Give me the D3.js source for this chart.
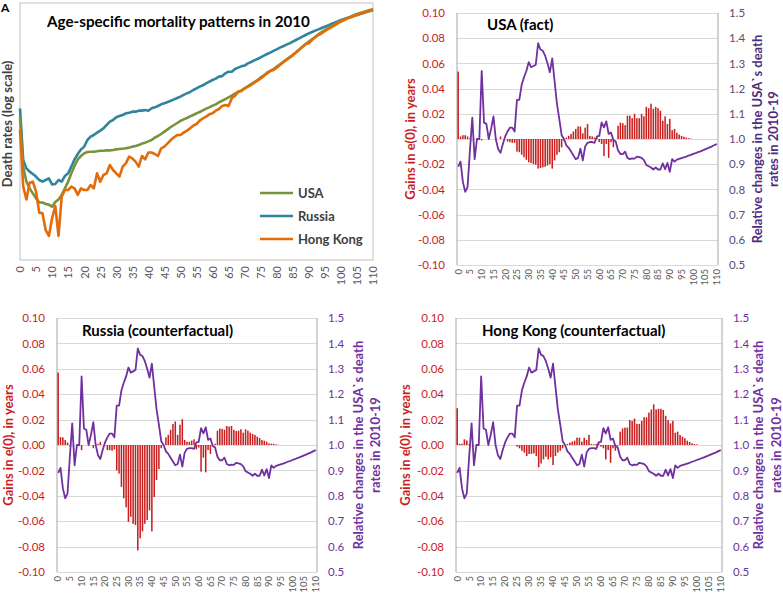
<!DOCTYPE html>
<html><head><meta charset="utf-8">
<script src="https://cdn.jsdelivr.net/npm/d3@7"></script>
<style>
body{margin:0;background:#fff}
svg{display:block}
text{font-family:Lato,"Open Sans",sans-serif}
</style>
</head><body>
<svg id="chart" width="783" height="603"></svg>
<script>
// ---------- DATA ----------
const ages = [0,1,2,3,4,5,6,7,8,9,10,11,12,13,14,15,16,17,18,19,20,21,22,23,24,25,26,27,28,29,30,31,32,33,34,35,36,37,38,39,40,41,42,43,44,45,46,47,48,49,50,51,52,53,54,55,56,57,58,59,60,61,62,63,64,65,66,67,68,69,70,71,72,73,74,75,76,77,78,79,80,81,82,83,84,85,86,87,88,89,90,91,92,93,94,95,96,97,98,99,100,101,102,103,104,105,106,107,108,109,110];
const xTickLabels = ["0","5","10","15","20","25","30","35","40","45","50","55","60","65","70","75","80","85","90","95","100","105","110"];
const leftTicks = [-0.10,-0.08,-0.06,-0.04,-0.02,0.00,0.02,0.04,0.06,0.08,0.10];
const rightTicks = [0.5,0.6,0.7,0.8,0.9,1.0,1.1,1.2,1.3,1.4,1.5];
const seriesNames = ["USA","Russia","Hong Kong"];

// Panel A: death rates 2010 (log scale)
const usaRates = [5.33e-3,5.33e-4,2.67e-4,1.96e-4,1.56e-4,1.24e-4,1.03e-4,1.02e-4,9.55e-5,9.27e-5,
8.45e-5,1.05e-4,1.18e-4,1.45e-4,1.96e-4,2.67e-4,3.92e-4,5.5e-4,7.46e-4,8.71e-4,
9.85e-4,1.05e-3,1.06e-3,1.06e-3,1.08e-3,1.11e-3,1.11e-3,1.13e-3,1.13e-3,1.15e-3,
1.18e-3,1.2e-3,1.22e-3,1.24e-3,1.28e-3,1.34e-3,1.38e-3,1.45e-3,1.54e-3,1.61e-3,
1.71e-3,1.82e-3,2.03e-3,2.19e-3,2.4e-3,2.67e-3,2.97e-3,3.31e-3,3.63e-3,3.98e-3,
4.37e-3,4.71e-3,5.01e-3,5.41e-3,5.75e-3,6.21e-3,6.61e-3,7.13e-3,7.7e-3,8.19e-3,
8.85e-3,9.4e-3,1.03e-2,1.11e-2,1.2e-2,1.3e-2,1.4e-2,1.54e-2,1.66e-2,1.79e-2,
1.96e-2,2.15e-2,2.4e-2,2.63e-2,2.88e-2,3.21e-2,3.57e-2,3.92e-2,4.37e-2,4.79e-2,
5.33e-2,5.93e-2,6.61e-2,7.36e-2,8.19e-2,9.12e-2,0.103,0.117,0.132,0.149,
0.169,0.188,0.209,0.236,0.263,0.288,0.316,0.347,0.374,0.41,
0.443,0.471,0.501,0.533,0.567,0.603,0.631,0.661,0.692,0.724,0.747];
const russiaRates = [7.82e-3,7.24e-4,4.93e-4,4.23e-4,3.8e-4,3.37e-4,2.88e-4,2.67e-4,2.88e-4,3.11e-4,
2.36e-4,2.4e-4,2.88e-4,2.67e-4,3.47e-4,3.92e-4,5.33e-4,7.46e-4,9.55e-4,1.18e-3,
1.34e-3,1.82e-3,2.12e-3,2.29e-3,2.55e-3,2.8e-3,3.11e-3,3.63e-3,4.23e-3,4.57e-3,
5.17e-3,5.5e-3,5.75e-3,6.21e-3,6.41e-3,6.71e-3,6.71e-3,7.03e-3,7.03e-3,7.24e-3,
7.0e-3,7.82e-3,8.19e-3,8.71e-3,9.4e-3,9.85e-3,1.05e-2,1.11e-2,1.18e-2,1.26e-2,
1.34e-2,1.45e-2,1.56e-2,1.66e-2,1.82e-2,1.96e-2,2.12e-2,2.26e-2,2.47e-2,2.67e-2,
2.88e-2,3.07e-2,3.37e-2,3.45e-2,3.92e-2,4.23e-2,4.23e-2,4.79e-2,5.09e-2,5.41e-2,
5.6e-2,6.21e-2,6.61e-2,7.13e-2,7.59e-2,8.19e-2,8.85e-2,9.55e-2,0.102,0.11,
0.118,0.128,0.136,0.147,0.156,0.169,0.182,0.196,0.212,0.229,
0.247,0.263,0.28,0.297,0.316,0.336,0.357,0.38,0.404,0.43,
0.457,0.479,0.501,0.525,0.55,0.575,0.603,0.631,0.661,0.692,0.724];
const hkRates = [2.97e-3,2.12e-4,1.18e-4,2.55e-4,2.67e-4,1.69e-4,6.41e-5,6.21e-5,2.88e-5,2.19e-5,
4.93e-5,8.71e-5,2.19e-5,1.34e-4,1.82e-4,1.82e-4,2.12e-4,1.96e-4,1.45e-4,1.96e-4,
1.82e-4,1.82e-4,2.29e-4,1.96e-4,3.92e-4,2.67e-4,3.63e-4,3.92e-4,5.75e-4,4.57e-4,
3.92e-4,3.37e-4,5.33e-4,6.21e-4,8.45e-4,7.82e-4,6.71e-4,5.33e-4,8.71e-4,7.46e-4,
1.02e-3,1.02e-3,9.55e-4,8.71e-4,1.24e-3,1.34e-3,1.56e-3,1.82e-3,2.06e-3,2.29e-3,
2.29e-3,2.55e-3,2.8e-3,3.11e-3,3.52e-3,3.8e-3,4.43e-3,4.93e-3,5.33e-3,5.93e-3,
6.21e-3,7.03e-3,7.59e-3,8.71e-3,9.12e-3,8.71e-3,1.24e-2,1.4e-2,1.69e-2,1.74e-2,
1.96e-2,2.12e-2,2.29e-2,2.55e-2,2.8e-2,3.11e-2,3.47e-2,4.05e-2,4.37e-2,4.57e-2,
5.09e-2,5.75e-2,6.5e-2,7.24e-2,8.07e-2,8.98e-2,0.102,0.115,0.134,0.151,
0.156,0.182,0.206,0.229,0.247,0.275,0.302,0.326,0.357,0.392,
0.423,0.457,0.486,0.516,0.55,0.575,0.612,0.641,0.671,0.703,0.724];

// Relative changes in the USA's death rates 2010-19 (right axis, same in all 3 panels)
const relChange = [0.89,0.91,0.83,0.79,0.81,0.955,1.085,0.92,1.0,1.0,
1.27,1.065,1.06,1.0,1.04,1.09,1.0,0.96,0.945,0.98,
1.01,1.03,1.045,1.045,1.03,1.155,1.155,1.215,1.245,1.27,
1.305,1.285,1.29,1.295,1.38,1.355,1.35,1.33,1.30,1.265,
1.32,1.23,1.14,1.08,1.015,1.0,0.975,0.965,0.95,0.935,
0.92,0.925,0.962,0.915,0.97,0.985,0.988,0.988,0.985,1.01,
1.012,1.066,1.046,1.07,1.02,1.026,0.996,0.99,0.954,0.94,
0.94,0.95,0.925,0.92,0.923,0.922,0.93,0.928,0.925,0.916,
0.897,0.892,0.887,0.879,0.887,0.879,0.879,0.903,0.88,0.905,
0.87,0.92,0.91,0.918,0.921,0.924,0.927,0.930,0.934,0.937,
0.941,0.944,0.948,0.951,0.955,0.959,0.963,0.967,0.971,0.976,0.980];

// Gains in e(0), in years (left axis)
const gainsUSA = [0.0535,0.002,0.003,0.003,0.002,0.0005,0,0,0,0,
-0.001,0,0,0,0,0,-0.001,0,0.002,0,
0,-0.002,-0.0025,-0.003,-0.003,-0.01,-0.0105,-0.0125,-0.0145,-0.0165,
-0.0185,-0.019,-0.02,-0.0205,-0.0235,-0.023,-0.0225,-0.022,-0.021,-0.02,
-0.0235,-0.017,-0.0125,-0.0105,-0.0066,-0.0015,0.001,0.0025,0.004,0.006,
0.008,0.01,0.01,0.0045,0.009,0.012,0.0025,0.002,0.0012,0.0012,
-0.0025,-0.004,-0.0135,-0.004,-0.015,-0.0025,-0.0065,0,0.0105,0.013,
0.0125,0.011,0.0185,0.0185,0.0165,0.02,0.0165,0.0165,0.02,0.018,
0.0255,0.0245,0.028,0.024,0.0255,0.0245,0.0225,0.0145,0.018,0.012,
0.016,0.007,0.008,0.005,0.0035,0.0025,0.0018,0.0012,0.0007,0.0003,
0,0,0,0,0,0,0,0,0,0,0];
const gainsRussia = [0.057,0.0063,0.006,0.004,0.002,-0.001,0,0,0,0,
-0.004,0,0,0,0,-0.0025,0,0.001,0.0025,0,
0,-0.004,-0.004,-0.0045,-0.0035,-0.02,-0.0225,-0.033,-0.042,-0.049,
-0.0605,-0.0565,-0.062,-0.063,-0.083,-0.0735,-0.068,-0.062,-0.059,-0.0515,
-0.068,-0.041,-0.0275,-0.019,-0.0025,0,0.006,0.008,0.012,0.0165,
0.0185,0.008,0.016,0.0203,0.004,0.0025,0.0025,0.0035,0.0045,-0.0035,
-0.002,-0.021,-0.01,-0.0215,-0.004,-0.007,0,0.001,0.0113,0.013,
0.0126,0.012,0.015,0.0145,0.015,0.012,0.011,0.0113,0.0124,0.0097,
0.0124,0.0113,0.0097,0.0087,0.008,0.0066,0.0055,0.004,0.0034,0.0026,
0.0013,0.001,0.0008,0.0005,0.0002,0,0,0,0,0,
0,0,0,0,0,0,0,0,0,0,0];
const gainsHK = [0.029,0.001,0.001,0.0045,0.0035,0.0005,0,0,0,0,
0,0,0,0,0,0,0,0,0,0,
0,0,0,0,0,-0.0013,-0.0026,-0.0045,-0.006,-0.0087,
-0.007,-0.007,-0.0066,-0.0087,-0.0176,-0.0145,-0.0113,-0.0092,-0.0113,-0.0097,
-0.0158,-0.0087,-0.006,-0.0045,-0.0026,0,0.0008,0.0018,0.0026,0.0034,
0.0058,0.0058,0.0026,0.0058,0.004,0.0079,0.0008,0.0005,0.0008,0.0013,
-0.0013,-0.0026,-0.0113,-0.004,-0.014,-0.0026,-0.0045,-0.0005,0.0105,0.013,
0.0137,0.0137,0.0197,0.019,0.0208,0.0166,0.0166,0.019,0.0218,0.0218,
0.0255,0.028,0.032,0.028,0.0285,0.0285,0.0276,0.023,0.0197,0.017,
0.019,0.0097,0.0105,0.0079,0.0066,0.0053,0.0034,0.0024,0.0013,0.0008,
0.0005,0,0,0,0,0,0,0,0,0,0];

// ---------- DRAW ----------
const svg = d3.select("#chart");
const GRID = "#d9d9d9", BOX = "#a6a6a6", TICK = "#595959";
const RED = "#c81e1e", PURPLE = "#7030a0";

// Panel label
svg.append("text").attr("x",1).attr("y",12).attr("font-size",12).attr("font-weight",700).attr("fill","#000").text("A");

// ----- Panel A -----
(function(){
  const x0=20,x1=373,y0=3,y1=260;
  const g = svg.append("g");
  const x = d3.scalePoint().domain(ages).range([x0,x1]);
  const y = d3.scaleLog().domain([7.24e-6,1]).range([y1,y0]);
  g.append("rect").attr("x",x0).attr("y",y0).attr("width",x1-x0).attr("height",y1-y0)
    .attr("fill","none").attr("stroke","#bfbfbf").attr("stroke-width",1);
  const colors = {"USA":"#77933c","Russia":"#31849b","Hong Kong":"#e36c09"};
  const data = {"USA":usaRates,"Russia":russiaRates,"Hong Kong":hkRates};
  const line = d3.line().x((d,i)=>x(ages[i])).y(d=>y(d));
  ["Russia","USA","Hong Kong"].forEach(n=>{
    g.append("path").attr("d",line(data[n])).attr("fill","none")
      .attr("stroke",colors[n]).attr("stroke-width",2.6).attr("stroke-linejoin","round");
  });
  const ax = g.append("g").attr("transform",`translate(0,${y1})`)
    .call(d3.axisBottom(x).tickValues(xTickLabels.map(Number)).tickSize(0));
  ax.select(".domain").remove();
  ax.selectAll("text").attr("transform","rotate(-90)").attr("text-anchor","end")
    .attr("x",-6).attr("y",0).attr("dy","0.35em").attr("fill",TICK)
    .attr("font-size",11).attr("font-family","Lato, sans-serif");
  g.append("text").attr("x",47).attr("y",27).attr("font-size",15.2).attr("font-weight",700)
    .attr("fill","#000").text("Age-specific mortality patterns in 2010");
  g.append("text").attr("transform","translate(12,124) rotate(-90)").attr("text-anchor","middle")
    .attr("font-size",13).attr("font-weight",700).attr("fill","#404040").text("Death rates (log scale)");
  const ly = {"USA":193,"Russia":216,"Hong Kong":239};
  seriesNames.forEach(n=>{
    g.append("line").attr("x1",260).attr("x2",293).attr("y1",ly[n]).attr("y2",ly[n])
      .attr("stroke",colors[n]).attr("stroke-width",2.6);
    g.append("text").attr("x",298).attr("y",ly[n]).attr("dy","0.35em").attr("font-size",13)
      .attr("font-weight",700).attr("fill","#404040").text(n);
  });
})();

// ----- Panels B, C, D -----
function panel(c){
  const g = svg.append("g");
  const x = d3.scaleBand().domain(ages).range([c.x0,c.x1]);
  const yL = d3.scaleLinear().domain([-0.1,0.1]).range([c.y1,c.y0]);
  const yR = d3.scaleLinear().domain([0.5,1.5]).range([c.y1,c.y0]);
  const bwf = x.bandwidth();
  g.selectAll("line.grid").data(leftTicks).join("line").attr("class","grid")
    .attr("x1",c.x0).attr("x2",c.x1).attr("y1",d=>Math.round(yL(d))+0.5).attr("y2",d=>Math.round(yL(d))+0.5)
    .attr("stroke",GRID).attr("stroke-width",1);
  g.append("line").attr("x1",c.x0).attr("x2",c.x0).attr("y1",c.y0).attr("y2",c.y1).attr("stroke",BOX);
  g.append("line").attr("x1",c.x1).attr("x2",c.x1).attr("y1",c.y0).attr("y2",c.y1).attr("stroke",BOX);
  const bw = bwf*0.65;
  g.selectAll("rect.bar").data(c.gains).join("rect").attr("class","bar")
    .attr("x",(d,i)=>x(ages[i])+(bwf-bw)/2)
    .attr("y",d=>yL(Math.max(0,d)))
    .attr("width",bw)
    .attr("height",d=>Math.abs(yL(d)-yL(0)))
    .attr("fill",RED);
  const line = d3.line().x((d,i)=>x(ages[i])+bwf/2).y(d=>yR(d));
  g.append("path").attr("d",line(relChange)).attr("fill","none").attr("stroke",PURPLE)
    .attr("stroke-width",1.8).attr("stroke-linejoin","round");
  const al = g.append("g").attr("transform",`translate(${c.x0},0)`)
    .call(d3.axisLeft(yL).tickValues(leftTicks).tickSize(0).tickPadding(12).tickFormat(d=>d.toFixed(2)));
  al.select(".domain").remove();
  al.selectAll("text").attr("fill",RED).attr("font-size",11.5).attr("font-family","Lato, sans-serif");
  const ar = g.append("g").attr("transform",`translate(${c.x1},0)`)
    .call(d3.axisRight(yR).tickValues(rightTicks).tickSize(0).tickPadding(11).tickFormat(d=>d.toFixed(1)));
  ar.select(".domain").remove();
  ar.selectAll("text").attr("fill",c.rcol).attr("font-size",11.5).attr("font-family","Lato, sans-serif");
  const ab = g.append("g").attr("transform",`translate(0,${c.y1})`)
    .call(d3.axisBottom(x).tickValues(xTickLabels.map(Number)).tickSize(0));
  ab.select(".domain").remove();
  ab.selectAll("text").attr("transform","rotate(-90)").attr("text-anchor","end")
    .attr("x",-4).attr("y",0).attr("dy","0.35em").attr("fill",TICK)
    .attr("font-size",9.5).attr("font-family","Lato, sans-serif");
  g.append("text").attr("x",c.tx).attr("y",c.ty).attr("font-size",15).attr("font-weight",700)
    .attr("fill","#000").text(c.title);
  const cy = (c.y0+c.y1)/2;
  g.append("text").attr("transform",`translate(${c.lx},${cy}) rotate(-90)`).attr("text-anchor","middle")
    .attr("dy","0.35em").attr("font-size",13).attr("font-weight",700).attr("fill",RED).text("Gains in e(0), in years");
  g.append("text").attr("transform",`translate(${c.rx1},${cy}) rotate(-90)`).attr("text-anchor","middle")
    .attr("dy","0.35em").attr("font-size",13).attr("font-weight",700).attr("fill",c.tcol).text("Relative changes in the USA`s death");
  g.append("text").attr("transform",`translate(${c.rx2},${cy}) rotate(-90)`).attr("text-anchor","middle")
    .attr("dy","0.35em").attr("font-size",13).attr("font-weight",700).attr("fill",c.tcol).text("rates in 2010-19");
}

panel({x0:457,x1:718,y0:13,y1:265,gains:gainsUSA,title:"USA (fact)",tx:487,ty:30,
  lx:410,rx1:757,rx2:773,rcol:"#60497a",tcol:"#4b2d7f"});
panel({x0:57,x1:317,y0:318,y1:572,gains:gainsRussia,title:"Russia (counterfactual)",tx:82,ty:336,
  lx:8,rx1:358,rx2:375,rcol:PURPLE,tcol:PURPLE});
panel({x0:456,x1:722,y0:318,y1:572,gains:gainsHK,title:"Hong Kong (counterfactual)",tx:482,ty:336,
  lx:405,rx1:758,rx2:776,rcol:PURPLE,tcol:PURPLE});
</script>
</body></html>
